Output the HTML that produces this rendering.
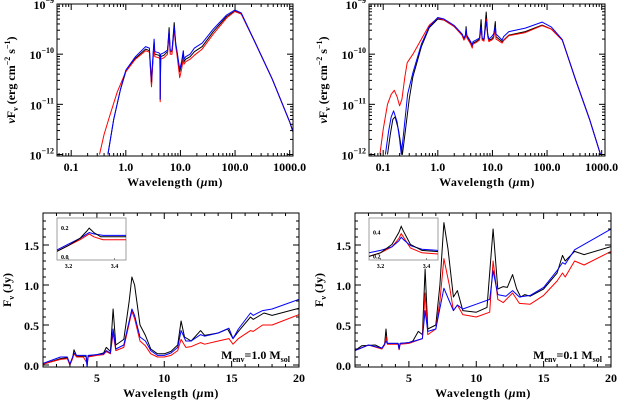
<!DOCTYPE html>
<html><head><meta charset="utf-8"><style>
html,body{margin:0;padding:0;background:#fff;}
svg{display:block;font-family:"Liberation Serif",serif;font-weight:bold;}
</style></head><body>
<svg id="fig" width="624" height="401" viewBox="0 0 624 401"></svg>
<script>
// ---- Panel A (top-left, Menv=1.0) SED: wavelength (um), log10 flux
const aBlackX=[0.47,0.6,0.8,1.0,1.5,2.3,2.7,2.95,3.05,3.2,3.3,3.4,4.0,4.2,4.27,4.35,5.0,5.8,6.2,6.5,7.0,7.7,8.2,8.6,9.7,10.5,11.3,11.6,12.5,15,18,25,40,70,99,130,234,480,1000,1150];
const aBlackY=[-12.0,-11.3,-10.7,-10.35,-10.08,-9.9,-9.93,-10.6,-10.3,-9.95,-9.75,-10.0,-10.02,-10.05,-10.9,-10.05,-10.02,-9.95,-9.47,-9.95,-9.95,-9.37,-9.8,-9.95,-10.35,-10.2,-9.95,-10.15,-10.1,-10.05,-9.95,-9.85,-9.55,-9.25,-9.14,-9.2,-9.77,-10.5,-11.35,-11.55];
const aBlueX=[0.47,0.6,0.8,1.0,1.5,2.3,2.7,2.95,3.05,3.2,3.3,3.4,4.0,4.2,4.27,4.35,5.0,5.8,6.2,6.5,7.0,7.7,8.2,8.6,9.7,10.5,11.3,11.6,12.5,15,18,25,40,70,99,130,234,480,1000,1150];
const aBlueY=[-12.0,-11.3,-10.7,-10.32,-10.05,-9.85,-9.88,-10.55,-10.25,-9.9,-9.7,-9.95,-9.97,-10.0,-10.9,-10.0,-9.97,-9.92,-9.55,-9.92,-9.92,-9.45,-9.78,-9.92,-10.3,-10.15,-9.93,-10.1,-10.05,-10.0,-9.88,-9.78,-9.5,-9.22,-9.12,-9.18,-9.77,-10.5,-11.35,-11.55];
const aRedX=[0.33,0.4,0.5,0.7,1.0,1.5,2.3,2.7,2.95,3.05,3.2,3.3,3.4,4.0,4.2,4.27,4.35,5.0,5.8,6.2,6.5,7.0,7.7,8.2,8.6,9.7,10.5,11.3,11.6,12.5,15,18,25,40,70,99,130,234,480,1000,1150];
const aRedY=[-12.0,-11.6,-11.25,-10.75,-10.35,-10.1,-9.93,-9.96,-10.65,-10.35,-10.0,-9.85,-10.05,-10.07,-10.1,-10.95,-10.1,-10.07,-10.0,-9.6,-10.0,-10.0,-9.5,-9.85,-10.0,-10.47,-10.3,-10.1,-10.2,-10.15,-10.1,-10.02,-9.9,-9.6,-9.28,-9.15,-9.2,-9.77,-10.5,-11.35,-11.55];
// ---- Panel B (top-right, Menv=0.1) SED
const bBlackX=[0.12,0.135,0.15,0.165,0.19,0.21,0.225,0.25,0.3,0.35,0.5,0.7,1.0,1.3,2.0,2.8,3.0,3.2,3.3,3.4,4.0,4.27,4.4,5.0,5.8,6.2,6.5,7.0,7.7,8.2,8.6,9.7,10.5,11.3,11.6,12.5,15,16,20,40,81,120,190,330,600,950];
const bBlackY=[-12.0,-11.6,-11.3,-11.25,-11.5,-11.8,-12.0,-11.6,-10.9,-10.45,-9.85,-9.47,-9.3,-9.32,-9.45,-9.62,-9.7,-9.65,-9.45,-9.65,-9.78,-9.85,-9.78,-9.75,-9.7,-9.31,-9.7,-9.72,-9.16,-9.6,-9.72,-9.7,-9.65,-9.35,-9.65,-9.68,-9.75,-9.72,-9.62,-9.55,-9.42,-9.5,-9.72,-10.5,-11.3,-12.0];
const bBlueX=[0.11,0.125,0.14,0.155,0.18,0.2,0.215,0.24,0.28,0.35,0.5,0.7,1.0,1.3,2.0,2.8,3.0,3.2,3.3,3.4,4.0,4.27,4.4,5.0,5.8,6.2,6.5,7.0,7.7,8.2,8.6,9.7,10.5,11.3,11.6,12.5,15,16,20,40,81,120,190,330,600,950];
const bBlueY=[-12.0,-11.55,-11.25,-11.13,-11.35,-11.7,-12.0,-11.5,-10.8,-10.37,-9.8,-9.45,-9.27,-9.3,-9.43,-9.6,-9.68,-9.62,-9.5,-9.62,-9.75,-9.82,-9.75,-9.72,-9.68,-9.45,-9.68,-9.7,-9.35,-9.6,-9.7,-9.65,-9.6,-9.45,-9.6,-9.63,-9.72,-9.65,-9.55,-9.48,-9.36,-9.46,-9.71,-10.5,-11.3,-12.0];
const bRedX=[0.087,0.1,0.12,0.14,0.16,0.18,0.2,0.22,0.25,0.275,0.35,0.5,0.7,1.0,1.3,2.0,2.8,3.0,3.2,3.3,3.4,4.0,4.27,4.4,5.0,5.8,6.2,6.5,7.0,7.7,8.2,8.6,9.7,10.5,11.3,11.6,12.5,15,16,20,40,81,120,190,330,600,950];
const bRedY=[-12.0,-11.5,-11.0,-10.8,-10.72,-10.85,-11.03,-10.9,-10.45,-10.17,-10.0,-9.7,-9.42,-9.28,-9.32,-9.45,-9.63,-9.72,-9.67,-9.55,-9.67,-9.8,-9.88,-9.8,-9.77,-9.72,-9.5,-9.72,-9.74,-9.3,-9.65,-9.75,-9.72,-9.68,-9.5,-9.7,-9.72,-9.78,-9.73,-9.63,-9.57,-9.43,-9.5,-9.72,-10.5,-11.3,-12.0];
// ---- Panel C (bottom-left, Menv=1.0) linear Jy
const cBlackX=[1.0,2.3,2.8,3.0,3.2,3.3,3.5,4.0,4.2,4.27,4.35,5.0,5.5,5.7,6.0,6.2,6.4,7.0,7.4,7.6,7.8,8.2,8.6,9.0,9.5,10,10.5,11.0,11.25,11.5,12,12.7,13,14,14.7,15.1,15.5,16.4,16.6,17.4,18,20];
const cBlackY=[0.01,0.08,0.09,0.01,0.09,0.19,0.11,0.11,0.11,0.0,0.11,0.13,0.15,0.22,0.17,0.70,0.25,0.32,0.8,1.1,1.0,0.5,0.37,0.2,0.14,0.14,0.17,0.25,0.55,0.35,0.3,0.43,0.37,0.4,0.45,0.33,0.42,0.6,0.57,0.65,0.62,0.71];
const cBlueX=[1.0,2.3,2.8,3.0,3.2,3.3,3.5,4.0,4.2,4.27,4.35,5.0,5.5,5.7,6.0,6.2,6.4,7.0,7.4,7.6,7.8,8.2,8.6,9.0,9.5,10,10.5,11.0,11.25,11.6,12,12.7,13,14,14.8,15.1,15.5,16.4,16.6,17.3,18,20];
const cBlueY=[0.02,0.1,0.1,0.01,0.1,0.15,0.12,0.12,0.12,-0.03,0.12,0.13,0.14,0.18,0.15,0.45,0.2,0.25,0.55,0.7,0.62,0.35,0.3,0.18,0.12,0.12,0.15,0.22,0.43,0.3,0.3,0.38,0.36,0.4,0.46,0.33,0.45,0.65,0.62,0.68,0.7,0.82];
const cRedX=[1.0,2.3,2.8,3.0,3.2,3.3,3.5,4.0,4.27,4.35,5.0,5.5,5.7,6.0,6.2,6.4,7.0,7.4,7.6,7.8,8.2,8.6,9.0,9.5,10,10.5,11.0,11.25,11.6,12,12.7,13,14,14.8,15.1,15.5,16.4,16.6,17.3,18,20];
const cRedY=[0.01,0.07,0.08,0.0,0.08,0.14,0.1,0.1,0.02,0.1,0.12,0.13,0.17,0.14,0.4,0.18,0.22,0.52,0.67,0.58,0.3,0.24,0.14,0.1,0.1,0.12,0.18,0.32,0.22,0.23,0.28,0.26,0.3,0.33,0.26,0.33,0.43,0.42,0.5,0.5,0.63];
// ---- Panel D (bottom-right, Menv=0.1) linear Jy
const dBlackX=[1.0,1.5,2.5,3.0,3.2,3.3,3.4,4.2,4.27,4.35,5,5.3,5.7,6.0,6.2,6.4,7.0,7.3,7.6,7.9,8.3,8.6,9.0,10,10.8,11.25,11.6,12.0,12.3,12.7,13.0,13.3,13.6,14,15,16,16.4,16.6,17.3,18,20];
const dBlackY=[0.18,0.24,0.25,0.21,0.26,0.45,0.27,0.27,0.2,0.27,0.28,0.3,0.42,0.38,1.2,0.45,0.5,1.0,1.78,1.45,0.85,0.93,0.68,0.66,0.72,1.7,0.95,0.98,0.97,1.13,0.95,0.85,0.88,0.86,0.95,1.15,1.37,1.3,1.42,1.38,1.48];
const dBlueX=[1.0,2.0,3.0,3.2,3.3,3.4,4.2,4.27,4.35,5,6.0,6.2,6.4,7.0,7.6,8.0,8.3,8.6,9.0,10,11,11.25,11.6,12.2,12.7,13.2,14,15,16,16.4,16.6,17.3,20];
const dBlueY=[0.18,0.25,0.21,0.26,0.3,0.27,0.27,0.2,0.27,0.28,0.33,0.68,0.42,0.45,0.96,0.8,0.68,0.75,0.7,0.76,0.82,1.18,0.88,0.86,0.93,0.85,0.87,0.97,1.18,1.28,1.26,1.44,1.7];
const dRedX=[1.0,2.0,3.0,3.2,3.3,3.4,4.2,4.27,4.35,5,6.0,6.2,6.4,7.0,7.3,7.6,8.0,8.3,8.6,9.0,10,11,11.25,11.6,12.0,12.7,13.2,14,15,16,16.4,16.6,17.3,18,20];
const dRedY=[0.18,0.25,0.2,0.25,0.35,0.26,0.26,0.19,0.26,0.27,0.33,0.9,0.38,0.45,0.8,1.33,1.0,0.68,0.75,0.63,0.6,0.66,1.3,0.82,0.78,0.9,0.77,0.76,0.87,1.05,1.15,1.1,1.3,1.25,1.42];
// ---- Insets (3.3 um feature)
const ciBlackX=[3.15,3.2,3.25,3.28,3.29,3.31,3.34,3.4,3.45];
const ciBlackY=[0.04,0.08,0.13,0.18,0.2,0.17,0.14,0.14,0.14];
const ciBlueX=[3.15,3.2,3.25,3.28,3.29,3.31,3.35,3.4,3.45];
const ciBlueY=[0.05,0.09,0.13,0.16,0.17,0.16,0.15,0.15,0.15];
const ciRedX=[3.15,3.2,3.25,3.28,3.29,3.31,3.35,3.4,3.45];
const ciRedY=[0.04,0.08,0.12,0.15,0.16,0.14,0.12,0.12,0.12];
const diBlackX=[3.15,3.2,3.25,3.28,3.29,3.3,3.33,3.38,3.45];
const diBlackY=[0.2,0.23,0.3,0.4,0.45,0.41,0.3,0.25,0.24];
const diBlueX=[3.15,3.2,3.25,3.28,3.29,3.3,3.33,3.38,3.45];
const diBlueY=[0.23,0.25,0.28,0.33,0.36,0.34,0.29,0.26,0.25];
const diRedX=[3.15,3.2,3.25,3.28,3.29,3.3,3.33,3.38,3.45];
const diRedY=[0.2,0.23,0.28,0.35,0.39,0.36,0.27,0.23,0.22];
// tick labels
const logXTicks=["0.1","1.0","10.0","100.0","1000.0"];
const logYTicks=["-12","-11","-10","-9"];
const linXTicks=[5,10,15,20];
const linYTicks=["0.0","0.5","1.0","1.5"];

const NS="http://www.w3.org/2000/svg";
const svg=document.getElementById('fig');
function el(tag,attrs,parent){const e=document.createElementNS(NS,tag);for(const k in attrs)e.setAttribute(k,attrs[k]);(parent||svg).appendChild(e);return e;}

function logPanel(ox,name,series){
  const g=el('g',{});
  
  
  const L=ox+57,R=ox+293,T=4,B=156;
  const x0=Math.log10(0.055),x1=Math.log10(1150),y0=-12.03,y1=-9;
  const sx=v=>L+(Math.log10(v)-x0)/(x1-x0)*(R-L);
  const sy=v=>B-(v-y0)/(y1-y0)*(B-T);
  const clip='clip'+ox;
  const cp=el('clipPath',{id:clip},g);el('rect',{x:L,y:T,width:R-L,height:B-T},cp);
  series.forEach(s=>{
    const p=el('polyline',{points:s.x.map((v,i)=>sx(v).toFixed(1)+','+sy(s.y[i]).toFixed(1)).join(' '),fill:'none',stroke:s.c,'stroke-width':1,'stroke-linejoin':'round','clip-path':'url(#'+clip+')'},g);
    
    
  });
  el('rect',{x:L,y:T,width:R-L,height:B-T,fill:'none',stroke:'#000','stroke-width':1},g);
  for(let d=-2;d<=3;d++){for(let m=1;m<10;m++){const v=m*Math.pow(10,d);const lv=Math.log10(v);if(lv<x0||lv>x1)continue;const x=sx(v);const len=m==1?6:3;
    el('line',{x1:x,y1:B,x2:x,y2:B-len,stroke:'#000'},g);el('line',{x1:x,y1:T,x2:x,y2:T+len,stroke:'#000'},g);}}
  logXTicks.forEach(t=>{const x=sx(parseFloat(t));const tx=el('text',{x:x,y:B+15,'text-anchor':'middle','font-size':12},g);tx.textContent=t;
    
    });
  for(let d=-13;d<=-9;d++){for(let m=1;m<10;m++){const lv=d+Math.log10(m);if(lv<y0||lv>y1)continue;const y=sy(lv);const len=m==1?6:3;
    el('line',{x1:L,y1:y,x2:L+len,y2:y,stroke:'#000'},g);el('line',{x1:R,y1:y,x2:R-len,y2:y,stroke:'#000'},g);}}
  logYTicks.forEach(t=>{const y=sy(parseFloat(t));const tx=el('text',{x:L-3,y:y+5,'text-anchor':'end','font-size':12},g);
    tx.innerHTML='10<tspan dy="-6" font-size="8">'+t.replace('-','\u2212')+'</tspan>';
    
    });
  const xt=el('text',{x:(L+R)/2,y:B+30,'text-anchor':'middle','font-size':12,'letter-spacing':'0.5'},g);
  xt.innerHTML='Wavelength (<tspan font-style="italic">\u03bc</tspan>m)';
  
  
  const yt=el('text',{transform:'translate('+(ox+15)+','+((T+B)/2)+') rotate(-90)','text-anchor':'middle','font-size':12},g);
  yt.innerHTML='<tspan font-style="italic">\u03bd</tspan>F<tspan dy="3" font-size="8">\u03bd</tspan><tspan dy="-3"> (erg cm</tspan><tspan dy="-5" font-size="8">\u22122</tspan><tspan dy="5"> s</tspan><tspan dy="-5" font-size="8">\u22121</tspan><tspan dy="5">)</tspan>';
  
  
}

function linPanel(ox,name,series,inset,label){
  const g=el('g',{});
  
  
  const L=ox+43,R=ox+299,T=213,B=367;
  const x0=1,x1=20,y0=-0.025,y1=1.9;
  const sx=v=>L+(v-x0)/(x1-x0)*(R-L);
  const sy=v=>B-(v-y0)/(y1-y0)*(B-T);
  const clip='clipl'+ox;
  const cp=el('clipPath',{id:clip},g);el('rect',{x:L,y:T,width:R-L,height:B-T},cp);
  series.forEach(s=>{
    const p=el('polyline',{points:s.x.map((v,i)=>sx(v).toFixed(1)+','+sy(s.y[i]).toFixed(1)).join(' '),fill:'none',stroke:s.c,'stroke-width':1,'stroke-linejoin':'round','clip-path':'url(#'+clip+')'},g);
    
    
  });
  el('rect',{x:L,y:T,width:R-L,height:B-T,fill:'none',stroke:'#000','stroke-width':1},g);
  for(let v=1;v<=20;v++){const x=sx(v);const len=v%5==0?6:3;el('line',{x1:x,y1:B,x2:x,y2:B-len,stroke:'#000'},g);el('line',{x1:x,y1:T,x2:x,y2:T+len,stroke:'#000'},g);}
  linXTicks.forEach(t=>{const tx=el('text',{x:sx(t),y:B+15,'text-anchor':'middle','font-size':12},g);tx.textContent=t;
    
    });
  for(let v=0;v<=1.8001;v+=0.1){const y=sy(v);const len=Math.abs(v*2-Math.round(v*2))<0.01?6:3;el('line',{x1:L,y1:y,x2:L+len,y2:y,stroke:'#000'},g);el('line',{x1:R,y1:y,x2:R-len,y2:y,stroke:'#000'},g);}
  linYTicks.forEach(t=>{const tx=el('text',{x:L-4,y:sy(parseFloat(t))+5,'text-anchor':'end','font-size':12},g);tx.textContent=t;
    
    });
  const xt=el('text',{x:(L+R)/2,y:B+30,'text-anchor':'middle','font-size':12,'letter-spacing':'0.5'},g);
  xt.innerHTML='Wavelength (<tspan font-style="italic">\u03bc</tspan>m)';
  
  
  const yt=el('text',{transform:'translate('+(ox+11)+','+((T+B)/2)+') rotate(-90)','text-anchor':'middle','font-size':12},g);
  yt.innerHTML='F<tspan dy="3" font-size="8">\u03bd</tspan><tspan dy="-3"> (Jy)</tspan>';
  
  
  const lb=el('text',{x:ox+290,y:359,'text-anchor':'end','font-size':12},g);
  lb.innerHTML='M<tspan dy="3" font-size="8">env</tspan><tspan dy="-3">='+label+'  M</tspan><tspan dy="3" font-size="8">sol</tspan>';
  
  
  // inset
  const ig=el('g',{},g);
  
  
  const iL=ox+57,iR=ox+126,iT=218,iB=260;
  const ix0=3.15,ix1=3.45;
  const isx=v=>iL+(v-ix0)/(ix1-ix0)*(iR-iL);
  const isy=v=>iB-(v-inset.y0)/(inset.y1-inset.y0)*(iB-iT);
  el('rect',{x:iL,y:iT,width:iR-iL,height:iB-iT,fill:'#fff',stroke:'#888','stroke-width':0.8},ig);
  const icp=el('clipPath',{id:'ic'+ox},ig);el('rect',{x:iL,y:iT,width:iR-iL,height:iB-iT},icp);
  inset.series.forEach(s=>{
    const p=el('polyline',{points:s.x.map((v,i)=>isx(v).toFixed(1)+','+isy(s.y[i]).toFixed(1)).join(' '),fill:'none',stroke:s.c,'stroke-width':1,'clip-path':'url(#ic'+ox+')'},ig);
    
    
  });
  [3.2,3.4].forEach(v=>{el('line',{x1:isx(v),y1:iB,x2:isx(v),y2:iB-2,stroke:'#888'},ig);
    const tx=el('text',{x:isx(v),y:iB+8,'text-anchor':'middle','font-size':6},ig);tx.textContent=v.toFixed(1);
    
    });
  inset.ticks.forEach(v=>{
    const tx=el('text',{x:iL+4,y:isy(v)+2,'font-size':6},ig);tx.textContent=v.toFixed(1);
    
    });
}

logPanel(0,'sed-panel-menv-1.0',[{x:aBlackX,y:aBlackY,c:'#000',n:'sed-black'},{x:aRedX,y:aRedY,c:'#f00',n:'sed-red'},{x:aBlueX,y:aBlueY,c:'#00f',n:'sed-blue'}]);
logPanel(312,'sed-panel-menv-0.1',[{x:bBlackX,y:bBlackY,c:'#000',n:'sed-black'},{x:bRedX,y:bRedY,c:'#f00',n:'sed-red'},{x:bBlueX,y:bBlueY,c:'#00f',n:'sed-blue'}]);
linPanel(0,'spectrum-panel-menv-1.0',[{x:cBlackX,y:cBlackY,c:'#000',n:'spec-black'},{x:cRedX,y:cRedY,c:'#f00',n:'spec-red'},{x:cBlueX,y:cBlueY,c:'#00f',n:'spec-blue'}],
  {y0:-0.02,y1:0.27,ticks:[0.0,0.2],series:[{x:ciRedX,y:ciRedY,c:'#f00',n:'inset-red'},{x:ciBlueX,y:ciBlueY,c:'#00f',n:'inset-blue'},{x:ciBlackX,y:ciBlackY,c:'#000',n:'inset-black'}]},'1.0');
linPanel(312,'spectrum-panel-menv-0.1',[{x:dBlackX,y:dBlackY,c:'#000',n:'spec-black'},{x:dRedX,y:dRedY,c:'#f00',n:'spec-red'},{x:dBlueX,y:dBlueY,c:'#00f',n:'spec-blue'}],
  {y0:0.17,y1:0.52,ticks:[0.2,0.4],series:[{x:diRedX,y:diRedY,c:'#f00',n:'inset-red'},{x:diBlueX,y:diBlueY,c:'#00f',n:'inset-blue'},{x:diBlackX,y:diBlackY,c:'#000',n:'inset-black'}]},'0.1');
</script>
</body></html>
